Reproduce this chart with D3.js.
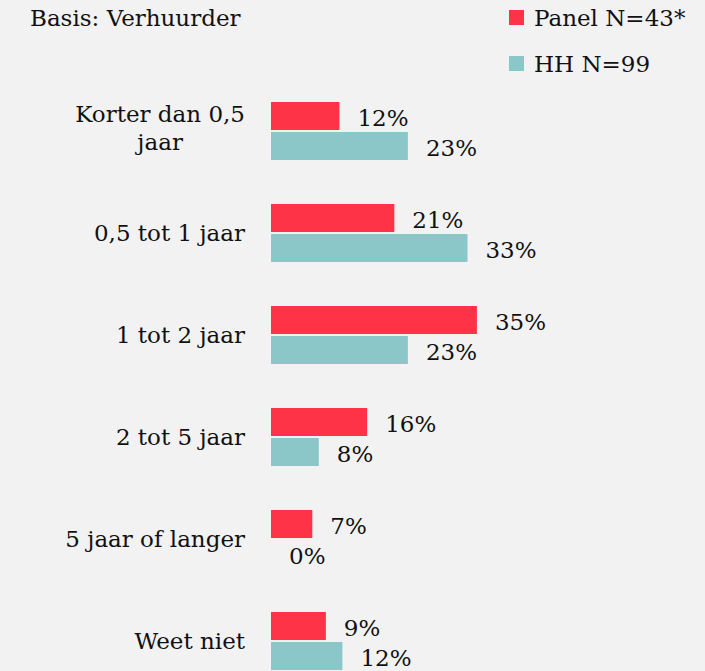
<!DOCTYPE html>
<html>
<head>
<meta charset="utf-8">
<style>
  body { margin: 0; background: #f2f2f2; }
  svg { display: block; font-family: "DejaVu Serif", serif; }
</style>
</head>
<body>
<script src="https://cdn.jsdelivr.net/npm/d3@7/dist/d3.min.js"></script>
<script>
// data
var categories = ["Korter dan 0,5 jaar", "0,5 tot 1 jaar", "1 tot 2 jaar", "2 tot 5 jaar", "5 jaar of langer", "Weet niet"];
var seriesNames = ["Panel N=43*", "HH N=99"];
var panelValues = [11.6, 20.9, 34.9, 16.3, 7.0, 9.3];
var hhValues = [23.2, 33.3, 23.2, 8.1, 0, 12.1];
var colors = ["#ff3347", "#8bc6c8"];
var title = "Basis: Verhuurder";

var width = 705, height = 671;
var fontSize = 23;

var svg = d3.select("body").append("svg")
  .attr("width", width)
  .attr("height", height);

svg.append("rect").attr("width", width).attr("height", height).attr("fill", "#f2f2f2");

var x = d3.scaleLinear().domain([0, 100]).range([271, 271 + 590]);
var y0 = d3.scaleBand().domain(categories).range([102, 102 + 102 * categories.length]);
var y1 = d3.scaleBand().domain(seriesNames).range([0, 58]).paddingInner(2 / 30);

var rows = categories.map(function(c, i) {
  return { cat: c, vals: [panelValues[i], hhValues[i]] };
});

var fmt = function(v) { return Math.round(v) + "%"; };

var g = svg.selectAll("g.cat").data(rows).enter().append("g")
  .attr("class", "cat")
  .attr("transform", function(d) { return "translate(0," + y0(d.cat) + ")"; });

g.selectAll("rect").data(function(d) { return d.vals; }).enter().append("rect")
  .attr("x", x(0))
  .attr("y", function(d, i) { return y1(seriesNames[i]); })
  .attr("width", function(d) { return x(d) - x(0); })
  .attr("height", y1.bandwidth())
  .attr("fill", function(d, i) { return colors[i]; });

g.selectAll("text.val").data(function(d) { return d.vals; }).enter().append("text")
  .attr("class", "val")
  .attr("x", function(d) { return x(d) + 18; })
  .attr("y", function(d, i) { return y1(seriesNames[i]) + y1.bandwidth() / 2 + 10; })
  .attr("font-size", fontSize)
  .attr("fill", "#111")
  .text(fmt);

// category labels, wrapped and right aligned as a block
var labelRight = 245, maxW = 205;
g.each(function(d) {
  var sel = d3.select(this);
  var words = d.cat.split(" "), lines = [], line = [];
  var t = sel.append("text").attr("font-size", fontSize).attr("fill", "#111");
  words.forEach(function(w) {
    line.push(w);
    t.text(line.join(" "));
    if (t.node().getComputedTextLength() > maxW && line.length > 1) {
      line.pop();
      lines.push(line.join(" "));
      line = [w];
    }
  });
  lines.push(line.join(" "));
  t.text(null);
  var widths = lines.map(function(l) {
    t.text(l); var w = t.node().getComputedTextLength(); t.text(null); return w;
  });
  var blockW = d3.max(widths);
  var cx = labelRight - blockW / 2;
  var lh = 28;
  var top = 29 - (lines.length - 1) * lh / 2 + 8 - (lines.length - 1) * 3;
  lines.forEach(function(l, i) {
    t.append("tspan").attr("x", cx).attr("y", top + i * lh)
      .attr("text-anchor", "middle").text(l);
  });
});

svg.append("text")
  .attr("x", 30).attr("y", 26)
  .attr("font-size", fontSize).attr("fill", "#111")
  .text(title);

var legend = svg.selectAll("g.leg").data(seriesNames).enter().append("g")
  .attr("class", "leg")
  .attr("transform", function(d, i) { return "translate(509," + (10 + i * 46) + ")"; });
legend.append("rect").attr("width", 15).attr("height", 15)
  .attr("fill", function(d, i) { return colors[i]; });
legend.append("text").attr("x", 25).attr("y", 16)
  .attr("font-size", fontSize).attr("fill", "#111")
  .text(function(d) { return d; });
</script>
</body>
</html>
